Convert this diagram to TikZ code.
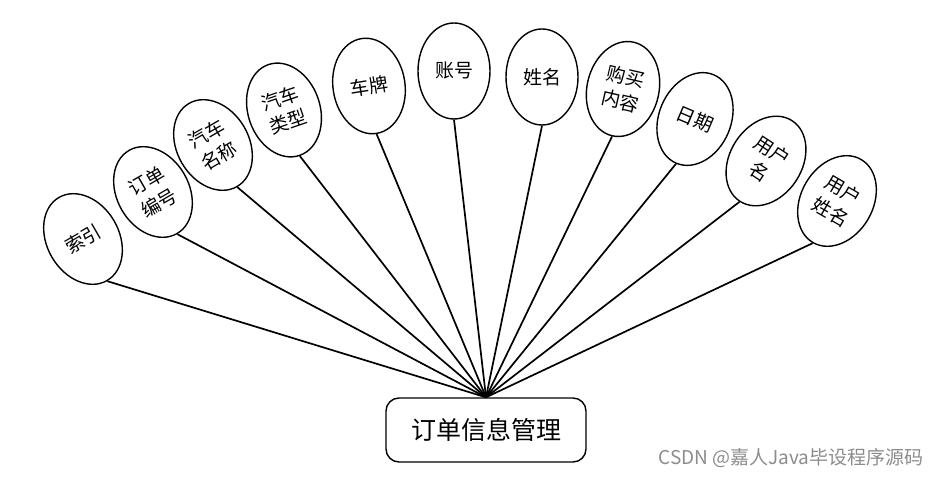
\documentclass[tikz,border=0pt]{standalone}
\usepackage{fontspec}
\setmainfont{Noto Sans CJK SC}
\usepackage{tikz}
\usetikzlibrary{shapes.geometric,positioning}
\tikzset{
  fieldbox/.style={draw=black,line width=1.4pt,ellipse,fill=white,inner sep=0pt,
    minimum width=72pt,minimum height=96pt,align=center,
    font=\fontsize{19}{25}\selectfont},
  entitybox/.style={draw=black,line width=1.4pt,rounded corners=13pt,fill=white,
    minimum width=200pt,minimum height=64pt,font=\fontsize{25}{29}\selectfont},
  fieldline/.style={line width=1.7pt},
  marklabel/.style={text=black!45,font=\fontsize{19}{22}\selectfont}
}

\begin{document}
\begin{tikzpicture}[x=1pt,y=-1pt]
  \useasboundingbox (0,0) rectangle (940,478);
  \node[entitybox] (order) at (486,430) {订单信息管理};
  \node[fieldbox,rotate=30] (idx) at (83,239) {索引};
  \node[fieldbox,rotate=30] (orderno) at (153,192) {订单\\编号};
  \node[fieldbox,rotate=30] (carname) at (213,145) {汽车\\名称};
  \node[fieldbox,rotate=19] (cartype) at (284,110) {汽车\\类型};
  \node[fieldbox,rotate=9] (plate) at (369,86) {车牌};
  \node[fieldbox] (account) at (454,71) {账号};
  \node[fieldbox] (name) at (542,77) {姓名};
  \node[fieldbox,rotate=-13] (content) at (623,89) {购买\\内容};
  \node[fieldbox,rotate=-23] (date) at (695,119) {日期};
  \node[fieldbox,rotate=-33] (username) at (766,161) {用户\\名};
  \node[fieldbox,rotate=-30] (userfull) at (837,201) {用户\\姓名};
  \draw[fieldline] (idx.south) -- (order.north);
  \draw[fieldline] (orderno.south) -- (order.north);
  \draw[fieldline] (carname.south) -- (order.north);
  \draw[fieldline] (cartype.south) -- (order.north);
  \draw[fieldline] (plate.south) -- (order.north);
  \draw[fieldline] (account.south) -- (order.north);
  \draw[fieldline] (name.south) -- (order.north);
  \draw[fieldline] (content.south) -- (order.north);
  \draw[fieldline] (date.south) -- (order.north);
  \draw[fieldline] (username.south) -- (order.north);
  \draw[fieldline] (userfull.south) -- (order.north);
  \node[marklabel] (mark) at (791,458) {CSDN @嘉人Java毕设程序源码};
\end{tikzpicture}
\end{document}
